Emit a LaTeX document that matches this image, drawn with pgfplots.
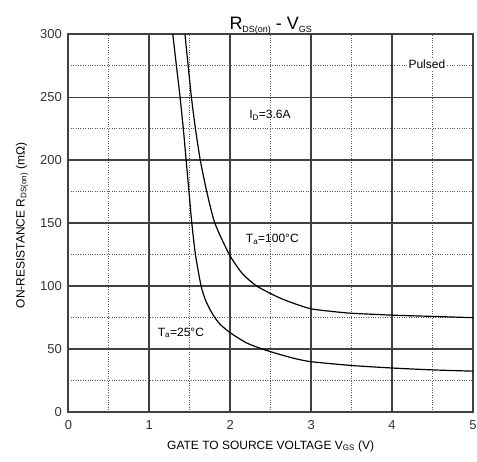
\documentclass[border=0pt]{standalone}
\usepackage{pgfplots}
\pgfplotsset{compat=1.18}
\usepackage{fontspec}
\setmainfont{Liberation Sans}
\usetikzlibrary{calc}
\begin{document}
\begin{tikzpicture}
\begin{axis}[
  scale only axis, width=405pt, height=378pt,
  xmin=0, xmax=5, ymin=0, ymax=300,
  xtick={0,1,2,3,4,5}, ytick={0,50,100,150,200,250,300},
  minor xtick={0.5,1.5,2.5,3.5,4.5}, minor ytick={25,75,125,175,225,275},
  grid=both,
  major grid style={draw=black!75, line width=1.7pt},
  minor grid style={draw=black!65, dotted, line width=1pt},
  axis line style={draw=black!75, line width=2pt},
  major tick length=0pt, minor tick length=0pt,
  /pgf/number format/assume math mode=true,
  tick label style={font=\fontsize{13}{13}\selectfont, text=black!80},
  xticklabel style={yshift=-5pt},
  yticklabel style={xshift=-3pt},
  clip=true,
]
\addplot[black, line width=1.2pt, smooth, tension=0.4] coordinates {
 (1.29,300) (1.335,275) (1.38,250) (1.42,225) (1.455,200) (1.49,175) (1.525,150)
 (1.57,125) (1.64,100) (1.7,88) (1.78,78) (1.87,70) (2.0,63) (2.2,55) (2.4,50)
 (2.6,46) (2.8,42.5) (3.0,40) (3.5,37) (4.0,35) (4.5,33.5) (5.0,32.5)};
\addplot[black, line width=1.2pt, smooth, tension=0.4] coordinates {
 (1.44,300) (1.48,275) (1.52,250) (1.57,225) (1.63,200) (1.71,175) (1.81,150)
 (1.99,125) (2.15,110) (2.33,100) (2.6,91) (2.8,86) (3.0,82) (3.25,80) (3.5,78.5)
 (4.0,77) (4.5,76) (5.0,75)};
\node[fill=white, inner sep=1pt, font=\fontsize{12}{12}\selectfont] at (axis cs:4.43,276) {Pulsed};
\node[font=\fontsize{12}{12}\selectfont] at (axis cs:2.49,236) {I\textsubscript{D}=3.6A};
\node[font=\fontsize{12}{12}\selectfont] at (axis cs:2.52,137) {T\textsubscript{a}=100°C};
\node[font=\fontsize{12}{12}\selectfont] at (axis cs:1.39,63) {T\textsubscript{a}=25°C};
\end{axis}
\node[anchor=base, font=\fontsize{18}{18}\selectfont] at ($(current axis.north)+(0,5pt)$)
  {R{\fontsize{9}{9}\selectfont\raisebox{-3pt}{DS(on)}} - V{\fontsize{9}{9}\selectfont\raisebox{-3pt}{GS}}};
\node[font=\fontsize{12}{12}\selectfont] at ($(current axis.south)+(0,-34pt)$)
  {GATE TO SOURCE VOLTAGE V\textsubscript{GS} (V)};
\node[rotate=90, font=\fontsize{12}{12}\selectfont] at ($(current axis.west)+(-46.5pt,-2pt)$)
  {ON-RESISTANCE R\textsubscript{DS(on)} (mΩ)};
\pgfresetboundingbox
\path ($(current axis.south west)+(-68.5pt,-49pt)$) rectangle ($(current axis.north east)+(4pt,34.5pt)$);
\end{tikzpicture}
\end{document}
